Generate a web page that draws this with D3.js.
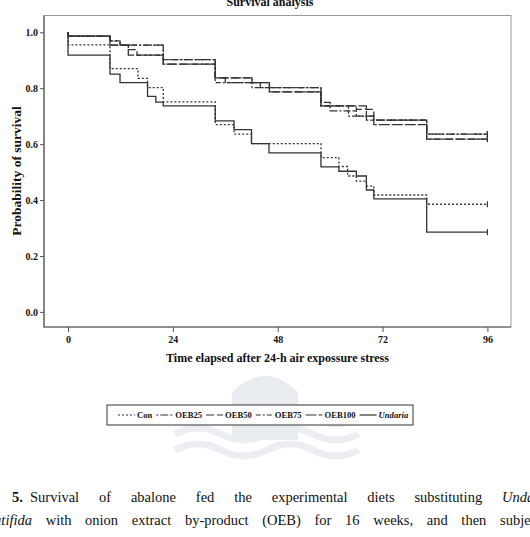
<!DOCTYPE html>
<html lang="en">
<head>
<meta charset="UTF-8">
<title>Survival analysis</title>
<script src="https://d3js.org/d3.v7.min.js"></script>
<style>
  body { margin: 0; background: #fff; }
  svg text { font-family: "Liberation Serif", "Times New Roman", serif; fill: #111; }
  .axis text { font-size: 10px; font-weight: bold; }
  .axis line { stroke: #555; }
  .axis path { display: none; }
  .curve { fill: none; stroke: #333; stroke-width: 1.3; }
</style>
</head>
<body>
<script>
// hours after stress, survival probability (Kaplan-Meier steps)
const con = [[0,1],[0,0.955],[9.6,0.87],[16,0.835],[18.2,0.802],[21.8,0.751],[33.7,0.67],[38,0.636],[42,0.602],[57.9,0.552],[62,0.52],[64,0.486],[66,0.468],[68.3,0.45],[70,0.418],[82.1,0.385]];
const oeb25 = [[0,1],[0,0.986],[9.6,0.969],[11.9,0.954],[21.8,0.902],[33.7,0.837],[36,0.82],[44,0.802],[57.9,0.749],[60,0.719],[64.2,0.70],[70,0.686],[82.1,0.636]];
const oeb50 = [[0,1],[0,0.986],[9.6,0.954],[13.8,0.938],[15.8,0.918],[21.8,0.886],[33.7,0.837],[42.1,0.82],[46.1,0.787],[57.9,0.737],[66,0.724],[70,0.686],[82.1,0.618]];
const oeb75 = [[0,1],[0,0.986],[9.6,0.969],[11.9,0.954],[21.8,0.902],[33.7,0.82],[42.1,0.802],[57.9,0.737],[64.2,0.719],[66,0.70],[70,0.686],[82.1,0.636]];
const oeb100 = [[0,1],[0,0.986],[9.6,0.954],[13.8,0.918],[21.8,0.886],[33.7,0.837],[42.1,0.82],[46.1,0.787],[57.9,0.737],[68.3,0.686],[70,0.67],[82.1,0.618]];
const undaria = [[0,1],[0,0.918],[9.6,0.85],[11.9,0.82],[18.2,0.771],[20.1,0.75],[21.8,0.737],[33.7,0.683],[38,0.652],[42,0.602],[46,0.569],[57.9,0.519],[62,0.503],[66,0.486],[68.3,0.436],[70,0.404],[82.1,0.285]];

const groupNames = ["Con", "OEB25", "OEB50", "OEB75", "OEB100", "Undaria"];
const groupData = [con, oeb25, oeb50, oeb75, oeb100, undaria];
const dashes = ["2,2", "2,2,8,2", "8,3", "5,2,2,2", "11,2", null];

const endTime = 96;
const xTicks = [0, 24, 48, 72, 96];
const yTicks = [0, 0.2, 0.4, 0.6, 0.8, 1.0];

const captionLine1 = ["Survival", "of", "abalone", "fed", "the", "experimental", "diets", "substituting", "Undaria"];
const captionLine2 = ["pinnatifida", "with", "onion", "extract", "by-product", "(OEB)", "for", "16", "weeks,", "and", "then", "subjected"];
const italicWords = ["Undaria", "pinnatifida"];

const width = 530, height = 537;
const plot = { left: 44, right: 511, top: 15.5, bottom: 327 };

const svg = d3.select("body").append("svg")
  .attr("width", width)
  .attr("height", height);

const x = d3.scaleLinear().domain([-5.5, 101.4]).range([plot.left, plot.right]);
const y = d3.scaleLinear().domain([-0.054, 1.06]).range([plot.bottom, plot.top]);

// faint seal watermark of the scanned page (shapes only)
const mark = svg.append("g");
[0, 1, 2].forEach(k => {
  mark.append("path")
    .attr("d", `M${175},${418 + k * 16} q23,-12 46,0 t46,0 t46,0 t46,0`)
    .attr("fill", "none").attr("stroke", "#eceef3").attr("stroke-width", 7);
});
mark.append("path")
  .attr("d", "M232,440 L232,392 Q265,360 298,392 L298,440 Z")
  .attr("fill", "#e8ebf0");

// title
svg.append("text")
  .attr("x", 270).attr("y", 6)
  .attr("text-anchor", "middle")
  .style("font-size", "12px").style("font-weight", "bold")
  .text("Survival analysis");

// frame
svg.append("rect")
  .attr("x", plot.left).attr("y", plot.top)
  .attr("width", plot.right - plot.left).attr("height", plot.bottom - plot.top)
  .attr("fill", "none").attr("stroke", "#999");
svg.append("path")
  .attr("d", `M${plot.left},${plot.top}V${plot.bottom}H${plot.right}`)
  .attr("fill", "none").attr("stroke", "#555").attr("stroke-width", 1.2);

svg.append("g")
  .attr("class", "axis")
  .attr("transform", `translate(${plot.left},0)`)
  .call(d3.axisLeft(y).tickValues(yTicks).tickFormat(d3.format(".1f")).tickSize(4).tickPadding(2));

svg.append("g")
  .attr("class", "axis")
  .attr("transform", `translate(0,${plot.bottom})`)
  .call(d3.axisBottom(x).tickValues(xTicks).tickSize(5).tickPadding(4));

svg.append("text")
  .attr("transform", `translate(20.5,171) rotate(-90)`)
  .attr("text-anchor", "middle")
  .style("font-size", "13.5px").style("font-weight", "bold")
  .text("Probability of survival");

svg.append("text")
  .attr("x", 277.5).attr("y", 362)
  .attr("text-anchor", "middle")
  .style("font-size", "12px").style("font-weight", "bold")
  .text("Time elapsed after 24-h air expossure stress");

// curves
const line = d3.line()
  .x(d => x(d[0]))
  .y(d => y(d[1]))
  .curve(d3.curveStepAfter);

groupData.forEach((pts, i) => {
  const last = pts[pts.length - 1][1];
  const full = pts.concat([[endTime, last]]);
  svg.append("path")
    .attr("class", "curve")
    .attr("d", line(full))
    .attr("stroke-dasharray", dashes[i]);
  svg.append("line")
    .attr("x1", x(endTime)).attr("x2", x(endTime))
    .attr("y1", y(last) - 3).attr("y2", y(last) + 3)
    .attr("stroke", "#333").attr("stroke-width", 1.2);
});

// legend
const legend = svg.append("g");
legend.append("rect")
  .attr("x", 107).attr("y", 405)
  .attr("width", 306).attr("height", 20)
  .attr("fill", "#fff").attr("stroke", "#333");

let lx = 118;
groupNames.forEach((name, i) => {
  legend.append("line")
    .attr("x1", lx).attr("x2", lx + 17)
    .attr("y1", 415).attr("y2", 415)
    .attr("stroke", "#333").attr("stroke-width", 1.2)
    .attr("stroke-dasharray", dashes[i]);
  const t = legend.append("text")
    .attr("x", lx + 19).attr("y", 418)
    .style("font-size", "8.6px").style("font-weight", "bold")
    .style("font-style", name === "Undaria" ? "italic" : "normal")
    .text(name);
  lx += 19 + t.node().getComputedTextLength() + 4;
});

// caption: justified lines, cut by the page edges like the scan
const caption = svg.append("g");

function captionLine(words, baseline, firstPos, lastStart, firstIsEnd) {
  const nodes = words.map(w => caption.append("text")
    .attr("y", baseline)
    .style("font-size", "14.5px")
    .style("font-style", italicWords.includes(w) ? "italic" : "normal")
    .text(w));
  const widths = nodes.map(n => n.node().getComputedTextLength());
  const inner = firstIsEnd ? d3.sum(widths.slice(1, -1)) : d3.sum(widths.slice(0, -1));
  const gap = (lastStart - firstPos - inner) / (words.length - 1);
  let pos = firstIsEnd ? firstPos - widths[0] : firstPos;
  nodes.forEach((n, i) => {
    n.attr("x", pos);
    pos += widths[i] + gap;
  });
}

caption.append("text")
  .attr("x", 12).attr("y", 502)
  .style("font-size", "14.5px").style("font-weight", "bold")
  .text("5.");
captionLine(captionLine1, 502, 30, 502, false);
captionLine(captionLine2, 525, 32, 500, true);
</script>
</body>
</html>
